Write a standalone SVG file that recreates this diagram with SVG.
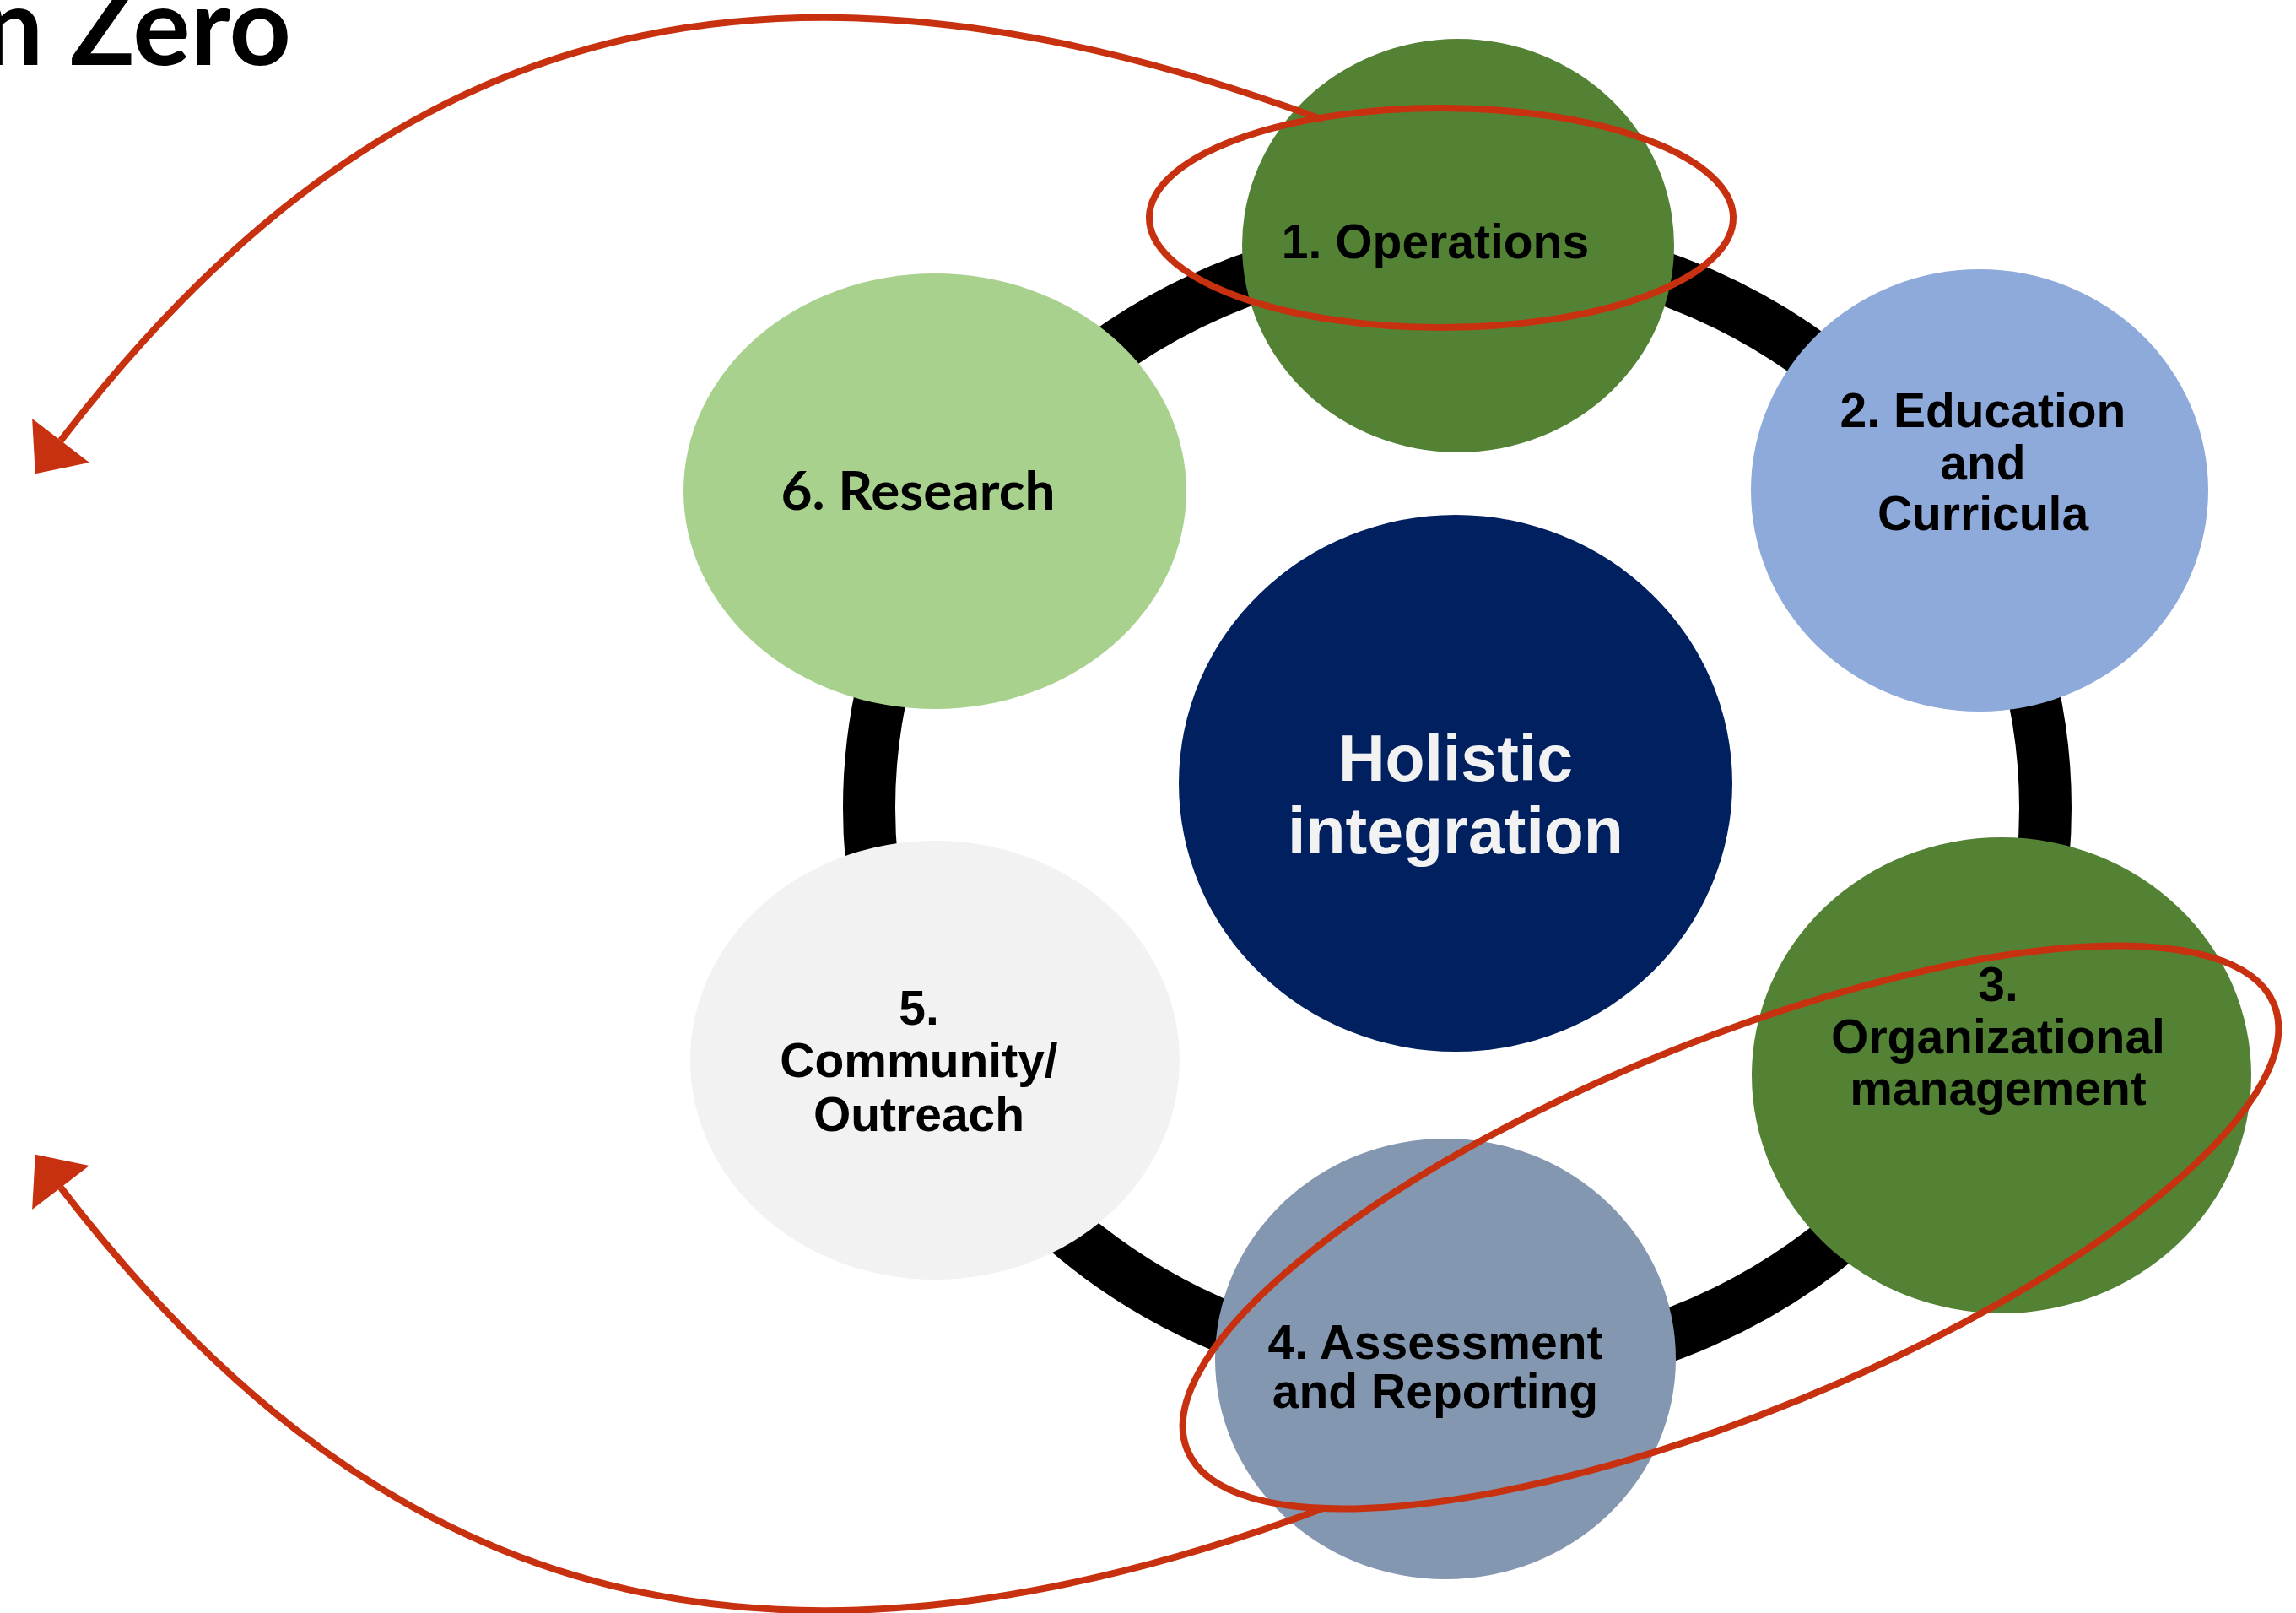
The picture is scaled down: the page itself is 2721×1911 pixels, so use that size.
<svg xmlns="http://www.w3.org/2000/svg" width="2721" height="1911" viewBox="0 0 2721 1911">
<defs>
<style>
.lbl{font-family:"Liberation Sans",Arial,sans-serif;font-weight:bold;font-size:57px;fill:#000;text-anchor:middle}
.ctr{font-family:"Liberation Sans",Arial,sans-serif;font-weight:bold;font-size:77px;fill:#F2F2F2;text-anchor:middle}
.red{fill:none;stroke:#C8310F;stroke-width:8}
</style>
<marker id="ah" markerUnits="userSpaceOnUse" markerWidth="60" markerHeight="90" viewBox="-2 -40 48 80" refX="0" refY="0" orient="auto">
<path d="M0,-38 L44,0 L0,38 Z" fill="#C8310F"/>
</marker>
</defs>
<rect width="2721" height="1911" fill="#fff"/>
<text x="345" y="77" text-anchor="end" font-family="Lato,'Noto Sans',sans-serif" font-weight="bold" font-size="128" fill="#000">n Zero</text>
<g id="ring">
<ellipse cx="1727" cy="957" rx="697" ry="670" fill="none" stroke="#000" stroke-width="62"/>
</g>
<g id="node-operations">
<ellipse cx="1728" cy="291" rx="256" ry="245" fill="#548235"/>
<text class="lbl" x="1701" y="306">1. Operations</text>
</g>
<g id="node-education">
<ellipse cx="2346" cy="581" rx="271" ry="262" fill="#8EAADB"/>
<text class="lbl" x="2350" y="506">2. Education</text>
<text class="lbl" x="2350" y="568">and</text>
<text class="lbl" x="2350" y="628">Curricula</text>
</g>
<g id="node-organizational">
<ellipse cx="2372" cy="1274" rx="296" ry="282" fill="#548235"/>
<text class="lbl" x="2368" y="1186">3.</text>
<text class="lbl" x="2368" y="1248">Organizational</text>
<text class="lbl" x="2368" y="1309">management</text>
</g>
<g id="node-assessment">
<ellipse cx="1713" cy="1610" rx="273" ry="261" fill="#8497B0"/>
<text class="lbl" x="1701" y="1610">4. Assessment</text>
<text class="lbl" x="1701" y="1668">and Reporting</text>
</g>
<g id="node-community">
<ellipse cx="1108" cy="1256" rx="290" ry="260" fill="#F2F2F2"/>
<text class="lbl" x="1089" y="1214">5.</text>
<text class="lbl" x="1089" y="1276">Community/</text>
<text class="lbl" x="1089" y="1340">Outreach</text>
</g>
<g id="node-research">
<ellipse cx="1108" cy="582" rx="298" ry="258" fill="#A9D18E"/>
<text x="1088" y="604" text-anchor="middle" font-family="Lato,'Open Sans',sans-serif" font-weight="bold" font-size="63" fill="#000" textLength="325" lengthAdjust="spacingAndGlyphs">6. Research</text>
</g>
<g id="node-center">
<ellipse cx="1725" cy="928" rx="328" ry="318" fill="#002060"/>
<text class="ctr" x="1725" y="925">Holistic</text>
<text class="ctr" x="1725" y="1011">integration</text>
</g>
<g id="highlights">
<ellipse class="red" cx="1708" cy="258" rx="346" ry="130"/>
<ellipse class="red" cx="2051" cy="1454" rx="696" ry="220" transform="rotate(-22.3 2051 1454)"/>
</g>
<g id="connectors">
<path class="red" d="M1568,142 C850,-125 420,70 72,522" marker-end="url(#ah)"/>
<path class="red" d="M1568,1787 C850,2054 420,1859 72,1407" marker-end="url(#ah)"/>
</g>
</svg>
